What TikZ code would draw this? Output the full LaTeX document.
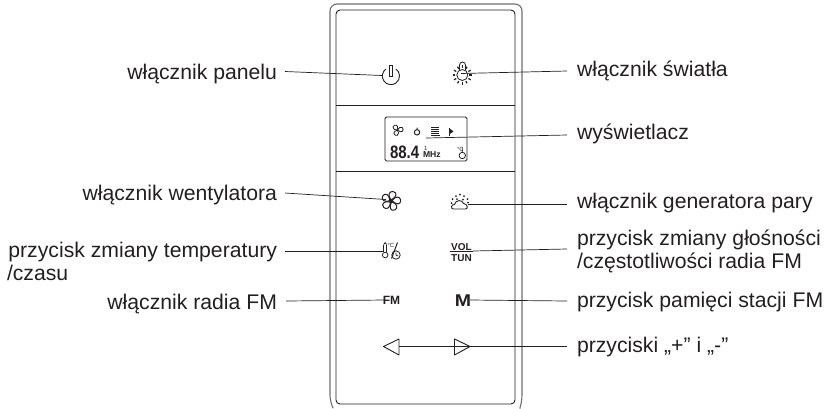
\documentclass[tikz,border=0pt]{standalone}
\usepackage{fontspec}
\usetikzlibrary{calc}
\setmainfont{Liberation Sans}
\definecolor{ink}{HTML}{231F20}
\definecolor{edgegrey}{HTML}{6D6E71}
\tikzset{
  lab/.style={font=\fontsize{21.2}{23}\selectfont, text=ink, inner sep=0pt, outer sep=0pt},
  labl/.style={lab, anchor=base east},
  labr/.style={lab, anchor=base west},
  conn/.style={draw=ink, line width=0.7pt},
  panel/.style={draw=ink, line width=0.9pt},
  casing/.style={draw=edgegrey, line width=1.1pt},
  icon/.style={draw=ink, line width=0.8pt},
  tiny/.style={font=\bfseries\fontsize{#1}{#1}\selectfont, text=ink, inner sep=0pt, outer sep=0pt}
}
\begin{document}
\begin{tikzpicture}[x=1pt,y=-1pt]
\useasboundingbox (0,0) rectangle (827,408);
% casing
\draw[casing,rounded corners=7pt] (333,408) -- (330,402) -- (330,4) -- (522,4) -- (522,402) -- (520,408);
\draw[panel,rounded corners=4pt] (336,10) rectangle (515,404);
\draw[panel] (336,105) -- (515,105);
\draw[panel] (336,171) -- (515,171);
% display
\node[draw=ink,line width=0.8pt,rounded corners=1.5pt,minimum width=82pt,minimum height=44pt,inner sep=0pt] (disp) at (426,139) {};
\node[tiny=15,anchor=base west] (freq) at (390,158) {\scalebox{1}[1.2]{88.4}};
\node[tiny=8.6,anchor=base west] (mhz) at (423,157.5) {MHz};
\node[tiny=5,anchor=base west,font=\fontsize{6}{6}\selectfont] (degc) at (457,151) {°C};
\draw[icon] (462.3,155.5) circle (3.2pt) (462.3,148) -- (462.3,152.3);
\node[tiny=5,anchor=base,font=\fontsize{6}{6}\selectfont] (one) at (425.7,150) {1};
\foreach \a in {0,120,240}
  \draw[icon,rotate around={\a:(397.5,130)}] (397.5,130) .. controls (399,124) and (394,124) .. (393,127) .. controls (393,129) and (395,130.5) .. (397.5,130);
\draw[icon,line width=1pt] (417,132.3) circle (2.7pt) (417,129.5) -- (417,127.5);
\foreach \x in {432,434,436,438} \draw[icon,line width=1.1pt,densely dotted] (\x,127) -- (\x,134);
\draw[icon,line width=1.1pt] (431,135.5) -- (440,135.5);
\draw[icon,line width=1.1pt] (449.8,128) -- (449.8,135.5);
\fill[ink] (449.8,128.5) -- (453.5,131.5) -- (449.8,134) -- cycle;
% power icon
\draw[icon,line width=0.9pt] (386,69) arc[start angle=125,end angle=415,radius=8.6pt];
\draw[icon,line width=0.9pt] (389.3,65) -- (392.5,65) -- (392.5,76) -- (389.3,76) -- cycle;
% light icon
\draw[icon] (459.5,70) -- (459.5,65) arc[start angle=180,end angle=0,radius=3pt] -- (465.5,70);
\draw[icon] (462.3,75) circle (5.5pt);
\foreach \a in {0,30,...,330}
  \draw[icon,line width=1.2pt] ($(462.3,75)+(\a:7pt)$) -- ($(462.3,75)+(\a:9.6pt)$);
% fan icon
\foreach \a in {0,72,144,216,288}
  \draw[icon,line width=1pt,rotate around={\a:(391,201)}] (391,200) .. controls (387.5,195.5) and (389,191) .. (393,191.5) .. controls (397.5,192.5) and (397,197) .. (391,200);
\fill[ink] (391,201) circle (2pt);
% steam icon
\draw[icon,line width=0.9pt] (453.5,209) .. controls (450.5,209) and (451,204) .. (454.5,204.5) .. controls (455.5,199.5) and (462.5,199.5) .. (463.5,203.5) .. controls (467,203.5) and (469,209) .. (465.5,209) -- cycle;
\foreach \p in {(452.5,199),(456,196),(460,194.5),(464,196),(467.5,199),(451.5,203),(468,202.5),(463,199.5),(457,199)}
  \fill[ink] \p circle (1pt);
% thermo/clock icon
\draw[icon] (383.7,244.5) -- (383.7,252);
\draw[icon] (386.7,244.5) -- (386.7,252);
\draw[icon] (385.2,255) circle (2.8pt);
\draw[icon] (383.7,244.5) .. controls (383.7,242) and (386.7,242) .. (386.7,244.5);
\node[tiny=4.5,anchor=base west,font=\fontsize{6}{6}\selectfont] (tempc) at (387.5,247.5) {°C};
\draw[icon,line width=1pt] (391.5,258.5) -- (397.5,242.5);
\draw[icon] (396,255) circle (4.2pt) (396,252.5) -- (396,255) -- (398,256);
% vol/tun
\node[tiny=10,anchor=base] (vol) at (461.5,250) {VOL};
\node[tiny=10,anchor=base] (tun) at (461.5,261.8) {TUN};
\draw[conn,line width=0.9pt] (450,251.7) -- (473,251.7);
% FM / M
\node[tiny=12,anchor=base] (fm) at (391.5,304.5) {FM};
\node[tiny=17,anchor=base] (mm) at (463,306.5) {\scalebox{1.15}[1]{M}};
% arrows
\draw[icon,line width=0.9pt,line join=round] (383.5,346.5) -- (399,339) -- (399,355) -- cycle;
\draw[icon,line width=0.9pt,line join=round] (470,346.5) -- (454.5,339) -- (454.5,355) -- cycle;
% targets
\coordinate (tpower) at (382,75.5);
\coordinate (tlight) at (461,73.5);
\coordinate (tdisp) at (426,138);
\coordinate (tfan) at (386,199.5);
\coordinate (tsteam) at (468,204);
\coordinate (ttemp) at (384,251);
\coordinate (tvol) at (473,251);
\coordinate (tfm) at (385,300);
\coordinate (tm) at (470,300);
\coordinate (tarrow) at (399,346.5);
% left labels
\node[labl] (a) at (277,79) {włącznik panelu};
\node[labl] (b) at (277,200) {włącznik wentylatora};
\node[labl] (c) at (277,257) {przycisk zmiany temperatury};
\node[lab,anchor=base west] (c2) at (7,280) {/czasu};
\node[labl] (d) at (277,309) {włącznik radia FM};
% right labels
\node[labr] (e) at (577,76) {włącznik światła};
\node[labr] (f) at (577,139) {wyświetlacz};
\node[labr] (g) at (577,208) {włącznik generatora pary};
\node[labr] (h) at (577,245) {przycisk zmiany głośności};
\node[labr] (h2) at (577,268) {/częstotliwości radia FM};
\node[labr] (i) at (577,307) {przycisk pamięci stacji FM};
\node[labr] (j) at (577,352) {przyciski „+” i „-”};
% connector start points
\coordinate (sa) at (285,71.5);
\coordinate (sb) at (285,193);
\coordinate (sc) at (285,251);
\coordinate (sd) at (286,301);
\coordinate (se) at (567,71);
\coordinate (sf) at (567,135);
\coordinate (sg) at (567,204);
\coordinate (sh) at (567,249);
\coordinate (si) at (567,301);
\coordinate (sj) at (567,346.5);
\draw[conn] (sa) -- (tpower);
\draw[conn] (sb) -- (tfan);
\draw[conn] (sc) -- (ttemp);
\draw[conn] (sd) -- (tfm);
\draw[conn] (se) -- (tlight);
\draw[conn] (sf) -- (tdisp);
\draw[conn] (sg) -- (tsteam);
\draw[conn] (sh) -- (tvol);
\draw[conn] (si) -- (tm);
\draw[conn] (sj) -- (tarrow);
\end{tikzpicture}
\end{document}
